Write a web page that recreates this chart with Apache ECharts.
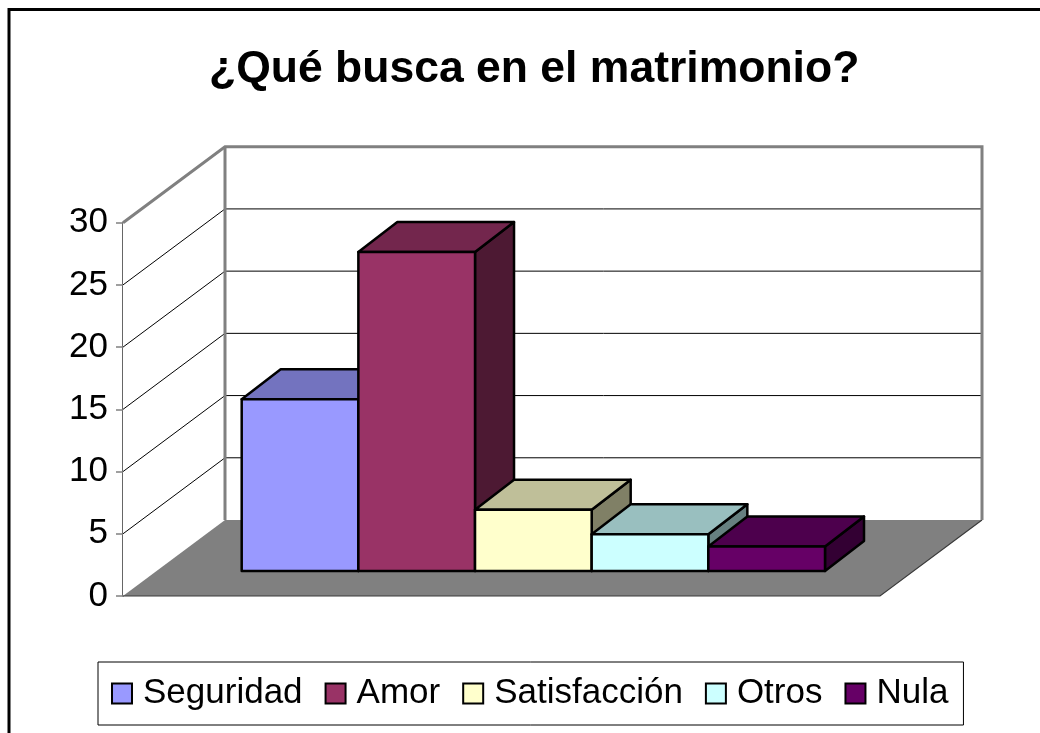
<!DOCTYPE html>
<html>
<head>
<meta charset="utf-8">
<script src="https://cdn.jsdelivr.net/npm/echarts@6/dist/echarts.min.js"></script>
<style>
html,body{margin:0;padding:0;background:#fff;}
#chart{width:1040px;height:733px;}
</style>
</head>
<body>
<div id="chart"></div>
<script>
// ---- data ----
const titleText = '¿Qué busca en el matrimonio?';
const categories = ['Seguridad', 'Amor', 'Satisfacción', 'Otros', 'Nula'];
const values = [14, 26, 5, 3, 2];
const yTicks = [0, 5, 10, 15, 20, 25, 30];
const frontColors = ['#9999FF', '#993366', '#FFFFCC', '#CCFFFF', '#660066'];
const topColors = ['#7373BF', '#73264D', '#BFBF99', '#99BFBF', '#4D004D'];
const sideColors = ['#4D4D80', '#4D1933', '#808066', '#668080', '#330033'];

// ---- style constants ----
const WALL_DEPTH = [102, -76];
const BAR_DEPTH = [39, -30];
const FONT = "'Liberation Sans', Arial, sans-serif";

const chart = echarts.init(document.getElementById('chart'), null, {renderer: 'canvas'});

function wallsRender(params, api) {
  const dx = WALL_DEPTH[0], dy = WALL_DEPTH[1];
  const yMax = yTicks[yTicks.length - 1];
  const p00 = api.coord([0, 0]);
  const p10 = api.coord([1, 0]);
  const p0m = api.coord([0, yMax]);
  const p1m = api.coord([1, yMax]);
  const sh = p => [p[0] + dx, p[1] + dy];
  const children = [];
  children.push({type: 'polygon', shape: {points: [sh(p0m), sh(p1m), sh(p10), sh(p00)]},
    style: {fill: '#fff', stroke: null}});
  children.push({type: 'polygon', shape: {points: [p00, p0m, sh(p0m), sh(p00)]},
    style: {fill: '#fff', stroke: null}});
  yTicks.forEach(v => {
    if (v === 0 || v === yMax) return;
    const a = api.coord([0, v]), b = api.coord([1, v]);
    children.push({type: 'line', shape: {x1: a[0], y1: a[1], x2: a[0] + dx, y2: a[1] + dy},
      style: {stroke: '#000', lineWidth: 1}});
    children.push({type: 'line', shape: {x1: a[0] + dx, y1: a[1] + dy, x2: b[0] + dx, y2: b[1] + dy},
      style: {stroke: '#000', lineWidth: 1}});
  });
  children.push({type: 'polygon', shape: {points: [p00, p10, sh(p10), sh(p00)]},
    style: {fill: '#808080', stroke: null}});
  children.push({type: 'polyline', shape: {points: [p00, p10, sh(p10)]},
    style: {fill: null, stroke: '#3a3a3a', lineWidth: 1.2}});
  children.push({type: 'polyline', shape: {points: [p0m, sh(p0m), sh(p1m), sh(p10)]},
    style: {fill: null, stroke: '#808080', lineWidth: 3, lineJoin: 'miter'}});
  children.push({type: 'line', shape: {x1: sh(p0m)[0], y1: sh(p0m)[1], x2: sh(p00)[0], y2: sh(p00)[1]},
    style: {stroke: '#808080', lineWidth: 3}});
  return {type: 'group', children: children};
}

function barRender(params, api) {
  const i = params.seriesIndex - 1;
  const x = api.value(0), v = api.value(1);
  const base = api.coord([x, 0]);
  const top = api.coord([x, v]);
  const w = api.size([1, 0])[0];
  const x0 = base[0] - w / 2, x1 = base[0] + w / 2;
  const yb = base[1], yt = top[1];
  const dx = BAR_DEPTH[0], dy = BAR_DEPTH[1];
  const st = {stroke: '#000', lineWidth: 2.5, lineJoin: 'round'};
  return {type: 'group', children: [
    {type: 'polygon', shape: {points: [[x1, yt], [x1, yb], [x1 + dx, yb + dy], [x1 + dx, yt + dy]]},
      style: Object.assign({fill: sideColors[i]}, st)},
    {type: 'polygon', shape: {points: [[x0, yt], [x1, yt], [x1 + dx, yt + dy], [x0 + dx, yt + dy]]},
      style: Object.assign({fill: topColors[i]}, st)},
    {type: 'rect', shape: {x: x0, y: yt, width: w, height: yb - yt},
      style: Object.assign({fill: frontColors[i]}, st)}
  ]};
}

const barSeries = categories.map((name, i) => ({
  type: 'custom',
  name: name,
  xAxisIndex: 1,
  yAxisIndex: 1,
  z: 3 + i,
  itemStyle: {color: frontColors[i]},
  data: [[i, values[i]]],
  encode: {x: 0, y: 1},
  renderItem: barRender
}));

const option = {
  animation: false,
  color: frontColors,
  title: {
    text: titleText,
    left: 204,
    top: 42,
    textStyle: {fontFamily: FONT, fontSize: 44.5, fontWeight: 'bold', color: '#000'}
  },
  legend: {
    data: categories,
    left: 98,
    top: 662,
    orient: 'horizontal',
    padding: [14, 15, 14, 13],
    borderColor: '#000',
    borderWidth: 1,
    itemWidth: 20,
    itemHeight: 20,
    itemGap: 22,
    icon: 'rect',
    itemStyle: {borderColor: '#000', borderWidth: 2},
    textStyle: {fontFamily: FONT, fontSize: 35, color: '#000', padding: [0, 0, 0, 6]}
  },
  graphic: [{
    type: 'rect',
    shape: {x: 9, y: 9.5, width: 1100, height: 1000},
    style: {fill: null, stroke: '#000', lineWidth: 3},
    silent: true
  }],
  grid: [
    {left: 123, right: 160, top: 222.7, bottom: 137},
    {left: 241.7, right: 215, top: 203, bottom: 162}
  ],
  xAxis: [
    {gridIndex: 0, type: 'value', min: 0, max: 1, show: false},
    {gridIndex: 1, type: 'category', data: categories, boundaryGap: true, show: false}
  ],
  yAxis: [
    {
      gridIndex: 0, type: 'value', min: 0, max: 30, interval: 5,
      axisLine: {show: true, lineStyle: {color: '#333', width: 1.5}},
      axisTick: {show: true, length: 7, lineStyle: {color: '#808080', width: 1.5}},
      splitLine: {show: false},
      axisLabel: {fontFamily: FONT, fontSize: 35, color: '#000', margin: 15}
    },
    {gridIndex: 1, type: 'value', min: 0, max: 30, show: false, splitLine: {show: false}}
  ],
  series: [{
    type: 'custom',
    name: '_walls',
    xAxisIndex: 0,
    yAxisIndex: 0,
    z: 1,
    silent: true,
    data: [[0, 0]],
    encode: {x: 0, y: 1},
    renderItem: wallsRender
  }].concat(barSeries)
};

chart.setOption(option);
</script>
</body>
</html>
